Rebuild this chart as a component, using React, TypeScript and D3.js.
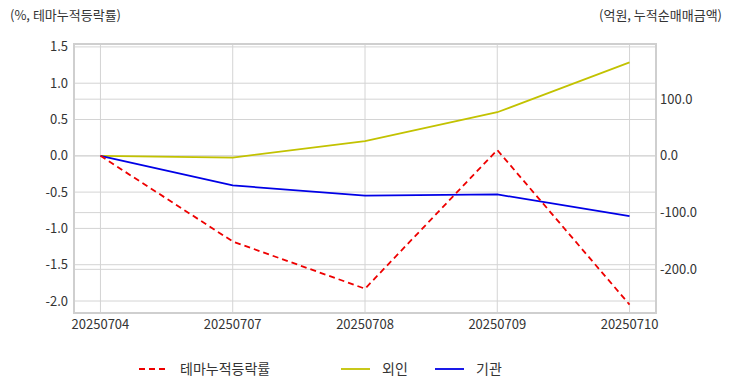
import React from "react";
import * as d3 from "d3";

const dates = ["20250704", "20250707", "20250708", "20250709", "20250710"];
const themeReturn = [0, -1.18, -1.83, 0.08, -2.05];
const foreign = [0, -3, 26, 77, 165];
const institution = [0, -52, -70, -68, -106];
const leftTicks = [1.5, 1.0, 0.5, 0.0, -0.5, -1.0, -1.5, -2.0];
const rightTicks = [100, 0, -100, -200];

const W = 732, H = 392;
const L = 74, R = 656, T = 44, B = 313;
const font = "'Noto Sans CJK KR', 'Noto Sans', sans-serif";

export default function App() {
  const x = d3.scalePoint<string>().domain(dates).range([L, R]).padding(0.2);
  const yL = d3.scaleLinear().domain([-2.165, 1.54]).range([B, T]);
  const yR = d3.scaleLinear().domain([-277, 197.3]).range([B, T]);
  const lineL = d3.line<number>().x((_, i) => x(dates[i])!).y((d) => yL(d));
  const lineR = d3.line<number>().x((_, i) => x(dates[i])!).y((d) => yR(d));
  const tc = "#333";
  return (
    <svg width={W} height={H} style={{ position: "absolute", left: 0, top: 0, fontFamily: font }}>
      <rect x={0} y={0} width={W} height={H} fill="#fff" />
      <text x={10} y={20} fontSize={13} fill={tc}>(%, 테마누적등락률)</text>
      <text x={722} y={20} fontSize={13} fill={tc} textAnchor="end">(억원, 누적순매매금액)</text>
      {leftTicks.map((t) => (
        <g key={"l" + t}>
          <line x1={L} x2={R} y1={yL(t)} y2={yL(t)} stroke="#d4d4d4" />
          <text x={68} y={yL(t) + 4.5} fontSize={13} fill={tc} textAnchor="end">{t.toFixed(1)}</text>
        </g>
      ))}
      {rightTicks.map((t) => (
        <g key={"r" + t}>
          <line x1={L} x2={R} y1={yR(t)} y2={yR(t)} stroke="#d4d4d4" />
          <text x={660} y={yR(t) + 4.5} fontSize={13} fill={tc}>{t.toFixed(1)}</text>
        </g>
      ))}
      {dates.map((d) => (
        <g key={d}>
          <line x1={x(d)} x2={x(d)} y1={T} y2={B} stroke="#d4d4d4" />
          <text x={x(d)} y={329} fontSize={13} fill={tc} textAnchor="middle">{d}</text>
        </g>
      ))}
      <rect x={L} y={T} width={R - L} height={B - T} fill="none" stroke="#cfcfcf" strokeWidth={2} />
      <path d={lineR(foreign)!} fill="none" stroke="#c2c200" strokeWidth={1.8} />
      <path d={lineR(institution)!} fill="none" stroke="#0000e6" strokeWidth={1.8} />
      <path d={lineL(themeReturn)!} fill="none" stroke="#ee0000" strokeWidth={1.8} strokeDasharray="6,4" />
      <g fontSize={14} fill={tc}>
        <line x1={139} x2={167} y1={369} y2={369} stroke="#ee0000" strokeWidth={1.8} strokeDasharray="6,4" />
        <text x={180} y={374}>테마누적등락률</text>
        <line x1={341} x2={370} y1={369} y2={369} stroke="#c2c200" strokeWidth={1.8} />
        <text x={382} y={374}>외인</text>
        <line x1={435} x2={464} y1={369} y2={369} stroke="#0000e6" strokeWidth={1.8} />
        <text x={476} y={374}>기관</text>
      </g>
    </svg>
  );
}
